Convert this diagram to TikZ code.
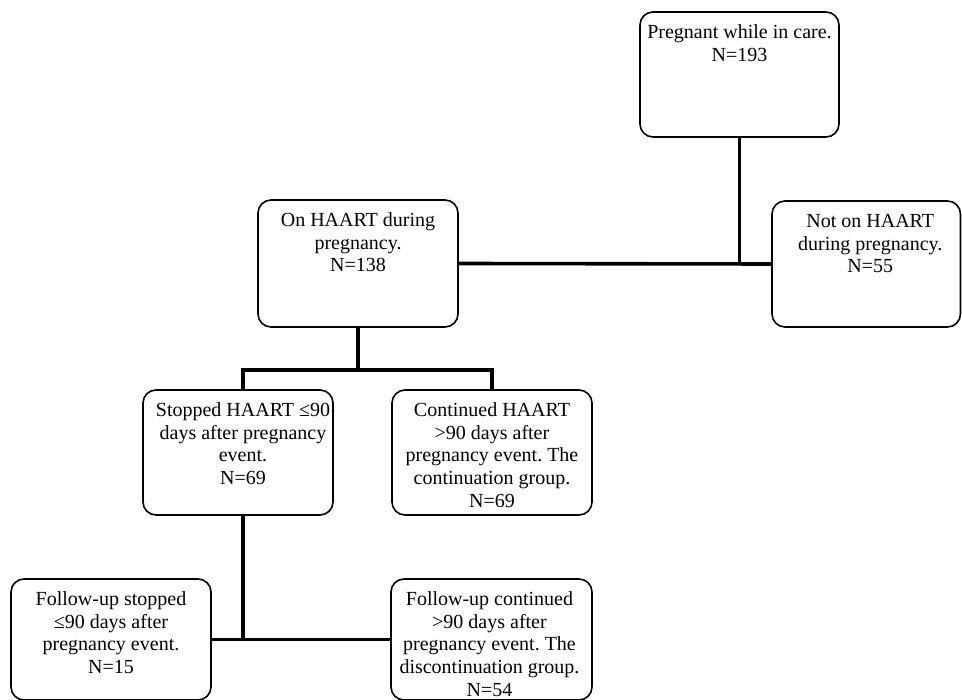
\documentclass[tikz,border=0pt]{standalone}
\usepackage{fontspec}
\setmainfont{Liberation Serif}
\frenchspacing
\newcommand{\firstln}{\rule{0pt}{27pt}}
\begin{document}
\begin{tikzpicture}[x=1pt,y=-1pt,
  box/.style={draw=black, line width=1.6pt, rounded corners=13pt, inner sep=0pt},
  txt/.style={anchor=north, inner sep=0pt, align=center,
    font=\fontsize{20}{22.7}\selectfont},
  conn/.style={draw=black, line width=3.6pt, line join=miter}]
\fill[white] (0,0) rectangle (962,700);
\useasboundingbox (0,0) rectangle (962,700);

% boxes
\node[box, minimum width=199pt, minimum height=125pt] (top) at (739.5,74.5) {};
\node[box, minimum width=188.5pt, minimum height=126pt] (nothaart) at (866.25,264) {};
\node[box, minimum width=200pt, minimum height=127pt] (haart) at (358,263.5) {};
\node[box, minimum width=190pt, minimum height=125pt] (stopped) at (238,452.5) {};
\node[box, minimum width=200pt, minimum height=125pt] (cont) at (492,452.5) {};
\node[box, minimum width=200pt, minimum height=121pt] (fstop) at (111,639.5) {};
\node[box, minimum width=201pt, minimum height=121pt] (fcont) at (491.5,639.5) {};

% texts
\node[txt] (ttop) at (top.north) {\firstln Pregnant while in care.\\N=193};
\node[txt] (tnot) at ([xshift=4pt]nothaart.north) {\firstln Not on HAART\\during pregnancy.\\N=55};
\node[txt] (thaart) at (haart.north) {\firstln On HAART during\\pregnancy.\\N=138};
\node[txt] (tstopped) at ([xshift=5pt]stopped.north) {\firstln Stopped HAART ≤90\\days after pregnancy\\event.\\N=69};
\node[txt] (tcont) at (cont.north) {\firstln Continued HAART\\>90 days after\\pregnancy event. The\\continuation group.\\N=69};
\node[txt] (tfstop) at (fstop.north) {\firstln Follow-up stopped\\≤90 days after\\pregnancy event.\\N=15};
\node[txt] (tfcont) at ([xshift=-2pt]fcont.north) {\firstln Follow-up continued\\>90 days after\\pregnancy event. The\\discontinuation group.\\N=54};

% connectors
\draw[conn] (haart.east) -- (nothaart.west);
\draw[conn] (top.south) -- (top.south |- haart.east);
\coordinate (j1) at (358,370);
\draw[conn] (haart.south) -- (j1);
\draw[conn] ([xshift=5pt]stopped.north) |- (j1) -| (cont.north);
\draw[conn] (fstop.east) -- (fcont.west);
\draw[conn] ([xshift=5pt]stopped.south) -- ([xshift=5pt]stopped.south |- fstop.east);
\end{tikzpicture}
\end{document}
